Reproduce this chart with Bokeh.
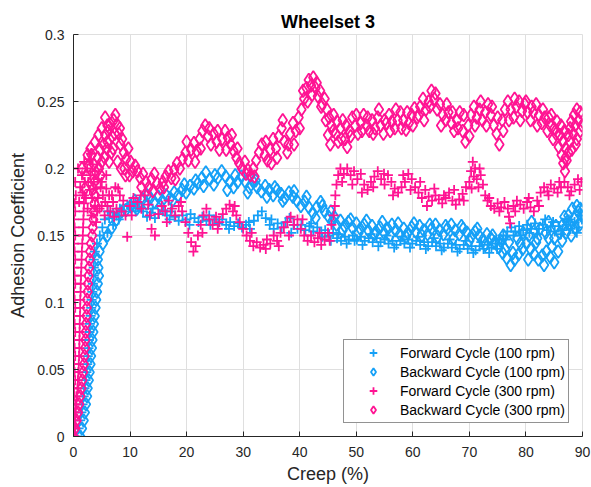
from bokeh.plotting import figure
from bokeh.models import Range1d, FixedTicker, Legend, LegendItem
from bokeh.embed import file_html
from bokeh.resources import INLINE

# ---------------- data (creep %, adhesion coefficient) ----------------
# rising part (steep ramp near zero creep), one adhesion level per entry
RAMP_ADH = [0.000, 0.006, 0.012, 0.018, 0.024, 0.030, 0.036, 0.042, 0.048, 0.054,
            0.060, 0.066, 0.072, 0.078, 0.084, 0.090, 0.096, 0.102, 0.108, 0.114,
            0.120, 0.126, 0.132, 0.138, 0.144, 0.150, 0.156, 0.162, 0.168, 0.174, 0.180]
FWD300_RAMP_A = [0.1, 0.3, 0.2, 0.1, 0.3, 0.2, 0.1, 0.3, 0.2, 0.1,
                 0.3, 0.2, 0.1, 0.3, 0.2, 0.1, 0.3, 0.2, 0.1, 0.3,
                 0.2, 0.1, 0.3, 0.2, 0.1, 0.3, 0.2, 0.1, 0.3, 0.2, 0.4]
FWD300_RAMP_B = [0.0, 0.15, 0.28, 0.4, 0.5, 0.6, 0.7, 0.78, 0.85, 0.93,
                 0.98, 1.03, 1.05, 1.08, 1.1, 1.15, 1.18, 1.2, 1.25, 1.28,
                 1.33, 1.38, 1.43, 1.48, 1.55, 1.65, 1.7, 1.75, 1.8, 1.85, 1.9]
BWD300_RAMP = [0.0, 0.3, 0.55, 0.8, 1.0, 1.2, 1.4, 1.55, 1.7, 1.85,
               1.95, 2.05, 2.1, 2.15, 2.2, 2.3, 2.35, 2.4, 2.5, 2.55,
               2.65, 2.75, 2.85, 2.95, 3.1, 3.3, 3.4, 3.5, 3.6, 3.7, 3.8]
FWD100_RAMP = [0.6, 0.9, 1.18, 1.4, 1.6, 1.8, 1.95, 2.13, 2.28, 2.43,
               2.53, 2.65, 2.73, 2.83, 2.9, 3.03, 3.13, 3.2, 3.33, 3.43,
               3.58, 3.58, 3.58, 3.78, 4.15, 4.65, 5.1, 5.55, 6.05]
BWD100_RAMP = [1.2, 1.5, 1.8, 2.0, 2.2, 2.4, 2.5, 2.7, 2.85, 3.0,
               3.1, 3.25, 3.35, 3.5, 3.6, 3.75, 3.9, 4.0, 4.15, 4.3,
               4.5, 4.4, 4.3, 4.6, 5.2, 6.0, 6.8, 7.6, 8.5]

FWD100_REST = [(6.3, 0.163), (7.0, 0.167), (7.6, 0.165), (8.2, 0.170), (8.9, 0.168), (9.5, 0.173),
               (10.2, 0.170), (10.9, 0.175), (11.6, 0.171), (12.3, 0.168), (13.0, 0.164), (13.7, 0.167),
               (14.4, 0.163), (15.1, 0.166), (15.8, 0.169), (16.5, 0.165), (17.2, 0.168), (17.9, 0.164),
               (18.6, 0.161), (19.3, 0.165), (20.0, 0.162), (20.7, 0.166), (21.4, 0.163), (22.1, 0.160),
               (22.8, 0.164), (23.5, 0.161), (24.2, 0.158), (24.9, 0.162), (25.6, 0.159), (26.3, 0.162),
               (27.0, 0.158), (27.7, 0.160), (28.4, 0.157), (29.1, 0.159), (29.8, 0.156), (30.5, 0.158),
               (31.2, 0.155), (31.9, 0.161), (32.6, 0.165), (33.3, 0.168), (34.0, 0.163), (34.7, 0.158),
               (35.4, 0.155), (36.1, 0.159), (36.8, 0.156), (37.5, 0.160), (38.2, 0.163), (38.9, 0.158),
               (39.6, 0.155), (40.3, 0.158), (41.0, 0.154), (41.7, 0.157), (42.4, 0.153), (43.1, 0.156),
               (43.8, 0.152), (44.5, 0.154), (45.2, 0.150), (45.9, 0.152), (46.6, 0.148), (47.3, 0.146),
               (48.0, 0.149), (48.7, 0.147), (49.4, 0.150), (50.1, 0.147), (50.8, 0.149), (51.5, 0.146),
               (52.2, 0.148), (52.9, 0.145), (53.6, 0.148), (54.3, 0.145), (55.0, 0.147), (55.7, 0.144),
               (56.4, 0.146), (57.1, 0.143), (57.8, 0.146), (58.5, 0.144), (59.2, 0.147), (59.9, 0.144),
               (60.6, 0.146), (61.3, 0.143), (62.0, 0.145), (62.7, 0.142), (63.4, 0.145), (64.1, 0.142),
               (64.8, 0.144), (65.5, 0.141), (66.2, 0.144), (66.9, 0.141), (67.6, 0.143), (68.3, 0.140),
               (69.0, 0.143), (69.7, 0.140), (70.4, 0.142), (71.1, 0.139), (71.8, 0.142), (72.5, 0.140),
               (73.2, 0.143), (73.9, 0.141), (74.6, 0.144), (75.3, 0.147), (76.0, 0.150), (76.7, 0.153),
               (77.4, 0.156), (78.1, 0.153), (78.8, 0.157), (79.5, 0.154), (80.2, 0.158), (80.9, 0.155),
               (81.6, 0.159), (82.3, 0.155), (83.0, 0.158), (83.7, 0.154), (84.4, 0.157), (85.1, 0.153),
               (85.8, 0.157), (86.5, 0.154), (87.2, 0.158), (87.9, 0.155), (88.6, 0.160), (89.3, 0.156),
               (89.9, 0.162),
               (6.0, 0.152), (7.0, 0.158), (8.0, 0.162),
               (11.0, 0.168), (14.0, 0.170), (17.0, 0.162), (20.5, 0.158), (24.0, 0.165), (27.5, 0.155),
               (31.0, 0.160), (35.0, 0.162), (38.5, 0.152), (42.0, 0.159), (44.0, 0.149),
               (45.5, 0.146), (46.9, 0.151), (48.3, 0.144), (49.7, 0.146), (51.1, 0.143), (52.5, 0.151),
               (53.9, 0.142), (55.3, 0.150), (56.7, 0.141), (58.1, 0.149), (59.5, 0.141), (60.9, 0.149),
               (62.3, 0.140), (63.7, 0.148), (65.1, 0.139), (66.5, 0.147), (67.9, 0.138), (69.3, 0.146),
               (70.7, 0.137), (72.1, 0.145), (73.5, 0.137), (74.9, 0.140), (75.7, 0.144), (76.4, 0.147),
               (77.8, 0.150), (79.1, 0.150), (80.6, 0.152), (82.0, 0.151), (83.4, 0.162), (84.8, 0.160),
               (86.2, 0.151), (87.6, 0.162), (89.0, 0.152), (89.6, 0.165)]

BWD100_REST = [(9.3, 0.169), (10.1, 0.172), (10.8, 0.176), (11.5, 0.173), (12.2, 0.177), (12.9, 0.174),
               (13.6, 0.178), (14.3, 0.175), (15.0, 0.179), (15.7, 0.176), (16.4, 0.180), (17.1, 0.178),
               (17.8, 0.182), (18.5, 0.180), (19.2, 0.184), (19.9, 0.182), (20.6, 0.187), (21.3, 0.185),
               (22.0, 0.189), (22.7, 0.193), (23.4, 0.197), (24.1, 0.192), (24.8, 0.188), (25.5, 0.193),
               (26.2, 0.198), (26.9, 0.194), (27.6, 0.190), (28.3, 0.186), (29.0, 0.190), (29.7, 0.194),
               (30.4, 0.190), (31.1, 0.186), (31.8, 0.190), (32.5, 0.186), (33.2, 0.183), (33.9, 0.187),
               (34.6, 0.184), (35.3, 0.180), (36.0, 0.184), (36.7, 0.181), (37.4, 0.178), (38.1, 0.182),
               (38.8, 0.179), (39.5, 0.176), (40.2, 0.172), (40.9, 0.175), (41.6, 0.171), (42.3, 0.167),
               (43.0, 0.171), (43.7, 0.175), (44.4, 0.168), (45.1, 0.164), (45.8, 0.161), (46.5, 0.158),
               (47.2, 0.161), (47.9, 0.157), (48.6, 0.160), (49.3, 0.156), (50.0, 0.159), (50.7, 0.155),
               (51.4, 0.158), (52.1, 0.154), (52.8, 0.157), (53.5, 0.153), (54.2, 0.156), (54.9, 0.152),
               (55.6, 0.155), (56.3, 0.158), (57.0, 0.154), (57.7, 0.151), (58.4, 0.155), (59.1, 0.152),
               (59.8, 0.156), (60.5, 0.153), (61.2, 0.157), (61.9, 0.154), (62.6, 0.151), (63.3, 0.155),
               (64.0, 0.158), (64.7, 0.154), (65.4, 0.151), (66.1, 0.155), (66.8, 0.158), (67.5, 0.154),
               (68.2, 0.151), (68.9, 0.155), (69.6, 0.152), (70.3, 0.149), (71.0, 0.153), (71.7, 0.150),
               (72.4, 0.147), (73.1, 0.151), (73.8, 0.148), (74.5, 0.145), (75.2, 0.141), (75.9, 0.137),
               (76.6, 0.133), (77.3, 0.128), (78.0, 0.132), (78.7, 0.136), (79.4, 0.140), (80.1, 0.144),
               (80.8, 0.140), (81.5, 0.136), (82.2, 0.132), (82.9, 0.135), (83.6, 0.138), (84.3, 0.134),
               (85.0, 0.130), (85.7, 0.138), (86.4, 0.146), (87.1, 0.152), (87.8, 0.158), (88.5, 0.163),
               (89.2, 0.168), (89.8, 0.165), (80.5, 0.150), (82.0, 0.148), (83.5, 0.152), (85.0, 0.148),
               (86.5, 0.158), (88.0, 0.150), (89.5, 0.158), (77.0, 0.145), (78.5, 0.148), (81.0, 0.160),
               (84.0, 0.160), (87.5, 0.165), (89.0, 0.172), (76.0, 0.150), (79.5, 0.152),
               (11.2, 0.170), (13.0, 0.180), (15.4, 0.172), (17.5, 0.176), (19.6, 0.188), (21.6, 0.191),
               (23.0, 0.187), (25.0, 0.195), (27.2, 0.184), (28.6, 0.195), (30.8, 0.182), (32.2, 0.191),
               (34.2, 0.179), (35.6, 0.186), (37.0, 0.176), (39.0, 0.183), (41.2, 0.179), (42.8, 0.163),
               (44.0, 0.172), (45.5, 0.168),
               (46.1, 0.164), (47.6, 0.154), (49.0, 0.162), (50.4, 0.152), (51.8, 0.161), (53.2, 0.151),
               (54.6, 0.160), (56.0, 0.150), (57.4, 0.159), (58.8, 0.149), (60.2, 0.159), (61.6, 0.150),
               (63.0, 0.158), (64.4, 0.149), (65.8, 0.157), (67.2, 0.148), (68.6, 0.157), (70.0, 0.146),
               (71.4, 0.155), (72.8, 0.143), (74.1, 0.150), (75.5, 0.146), (76.3, 0.140), (77.7, 0.137),
               (79.0, 0.144), (80.4, 0.132), (81.8, 0.145), (83.2, 0.128), (84.6, 0.142), (86.0, 0.152),
               (87.3, 0.160), (88.7, 0.156), (89.6, 0.170), (88.2, 0.170), (86.8, 0.164), (85.3, 0.157),
               (84.0, 0.148), (82.5, 0.155)]

FWD300_REST = [(1.2, 0.186), (1.5, 0.195), (2.0, 0.190), (2.4, 0.200), (2.8, 0.207), (3.1, 0.211),
               (3.4, 0.203), (3.0, 0.195), (3.6, 0.190), (4.0, 0.185), (4.4, 0.192), (4.8, 0.186),
               (5.2, 0.180), (5.6, 0.175), (6.0, 0.172), (2.5, 0.170), (3.2, 0.165), (4.0, 0.160),
               (4.6, 0.170), (5.5, 0.165), (6.5, 0.168), (7.0, 0.175), (7.6, 0.170), (8.2, 0.180),
               (8.8, 0.176), (9.5, 0.149), (9.2, 0.165), (10.0, 0.172), (10.6, 0.178), (11.3, 0.175),
               (12.0, 0.170), (12.6, 0.180), (13.2, 0.173), (13.8, 0.155), (14.4, 0.150), (15.0, 0.166),
               (15.6, 0.172), (16.2, 0.168), (16.8, 0.176), (17.4, 0.170), (18.0, 0.165), (18.6, 0.172),
               (19.2, 0.168), (19.8, 0.160), (20.3, 0.152), (20.8, 0.145), (21.2, 0.138), (21.6, 0.142),
               (22.0, 0.150), (22.5, 0.158), (23.0, 0.165), (23.5, 0.170), (24.0, 0.162), (24.6, 0.158),
               (25.2, 0.164), (25.8, 0.160), (26.4, 0.166), (27.0, 0.170), (27.6, 0.173), (28.2, 0.168),
               (28.8, 0.165), (29.4, 0.160), (30.0, 0.155), (30.6, 0.150), (31.2, 0.146), (31.8, 0.142),
               (32.4, 0.145), (33.0, 0.141), (33.6, 0.143), (34.2, 0.147), (34.8, 0.144), (35.4, 0.150),
               (36.0, 0.146), (36.6, 0.152), (37.2, 0.156), (37.8, 0.160), (38.4, 0.164), (39.0, 0.158),
               (39.6, 0.162), (40.2, 0.155), (40.8, 0.150), (41.4, 0.146), (42.0, 0.150), (42.6, 0.145),
               (43.2, 0.148), (43.8, 0.143), (44.4, 0.147), (45.0, 0.152), (45.6, 0.158), (46.0, 0.165),
               (46.2, 0.172), (46.3, 0.180), (46.5, 0.188), (46.8, 0.195), (47.2, 0.200), (47.8, 0.196),
               (48.4, 0.200), (49.0, 0.195), (49.6, 0.198), (50.2, 0.192), (50.8, 0.196), (51.4, 0.188),
               (52.0, 0.184), (52.6, 0.190), (53.2, 0.194), (53.8, 0.198), (54.4, 0.192), (55.0, 0.188),
               (55.6, 0.195), (56.2, 0.190), (56.8, 0.185), (57.4, 0.182), (58.0, 0.186), (58.6, 0.190),
               (59.2, 0.196), (59.8, 0.192), (60.4, 0.186), (61.0, 0.182), (61.6, 0.178), (62.2, 0.184),
               (62.8, 0.179), (63.4, 0.176), (64.0, 0.180), (64.6, 0.177), (65.2, 0.174), (65.8, 0.178),
               (66.4, 0.182), (67.0, 0.176), (67.6, 0.173), (68.2, 0.177), (68.8, 0.181), (69.4, 0.186),
               (70.0, 0.190), (70.3, 0.198), (70.6, 0.205), (71.0, 0.200), (71.3, 0.192), (71.6, 0.186),
               (72.0, 0.195), (72.4, 0.188), (72.8, 0.180), (73.2, 0.176), (73.8, 0.172), (74.4, 0.170),
               (75.0, 0.174), (75.6, 0.171), (76.2, 0.175), (76.8, 0.170), (77.0, 0.164), (77.2, 0.159),
               (77.8, 0.172), (78.4, 0.176), (79.0, 0.173), (79.6, 0.170), (80.2, 0.175), (80.8, 0.171),
               (81.4, 0.168), (82.0, 0.176), (82.6, 0.182), (83.2, 0.186), (83.8, 0.183), (84.4, 0.188),
               (85.0, 0.185), (85.6, 0.182), (86.2, 0.186), (86.8, 0.190), (87.4, 0.186), (88.0, 0.183),
               (88.6, 0.188), (89.2, 0.192), (89.8, 0.190),
               (0.3, 0.190), (0.8, 0.200), (1.0, 0.175), (1.6, 0.182), (2.2, 0.178), (2.6, 0.190),
               (1.9, 0.205), (3.8, 0.198), (4.2, 0.168), (5.0, 0.172), (5.8, 0.195), (6.3, 0.180),
               (7.2, 0.164), (7.9, 0.185), (8.5, 0.168), (2.9, 0.184), (3.3, 0.178), (3.8, 0.172),
               (4.3, 0.178), (5.0, 0.190), (5.8, 0.185), (6.8, 0.180), (7.4, 0.186),
               (10.3, 0.165), (11.9, 0.180), (13.5, 0.165), (16.5, 0.160), (19.0, 0.175), (22.8, 0.152),
               (25.5, 0.155), (28.5, 0.172), (31.5, 0.152), (34.0, 0.140), (36.3, 0.142), (38.1, 0.150),
               (40.5, 0.162), (43.5, 0.152), (45.3, 0.146),
               (47.5, 0.190), (49.3, 0.188), (51.0, 0.182), (53.0, 0.186), (54.9, 0.196), (56.5, 0.180),
               (58.3, 0.195), (59.6, 0.184), (61.3, 0.190), (62.5, 0.172), (63.8, 0.185), (65.5, 0.180),
               (67.3, 0.184), (69.0, 0.176), (70.4, 0.185), (70.8, 0.194), (71.8, 0.200), (73.5, 0.178),
               (75.3, 0.168), (78.1, 0.168), (80.5, 0.178), (82.3, 0.172), (84.0, 0.180), (85.9, 0.190),
               (87.7, 0.180), (89.5, 0.184)]

BWD300_REST = [(3.6, 0.203), (4.0, 0.197), (4.3, 0.208), (4.7, 0.214), (5.0, 0.205), (5.3, 0.218),
               (5.6, 0.225), (5.9, 0.215), (6.2, 0.228), (6.5, 0.233), (6.8, 0.224), (7.1, 0.236),
               (7.4, 0.240), (7.7, 0.233), (8.0, 0.226), (8.3, 0.218), (8.6, 0.222), (8.9, 0.212),
               (9.3, 0.207), (9.7, 0.215), (10.1, 0.205), (10.5, 0.198), (10.9, 0.202), (11.3, 0.198),
               (11.8, 0.193), (12.3, 0.196), (12.8, 0.190), (13.3, 0.186), (13.8, 0.192), (14.3, 0.196),
               (14.8, 0.189), (15.3, 0.185), (15.8, 0.190), (16.3, 0.194), (16.8, 0.198), (17.3, 0.193),
               (17.8, 0.199), (18.3, 0.204), (18.8, 0.200), (19.3, 0.207), (19.8, 0.212), (20.3, 0.206),
               (20.8, 0.214), (21.3, 0.219), (21.8, 0.213), (22.3, 0.222), (22.8, 0.228), (23.3, 0.232),
               (23.8, 0.224), (24.3, 0.218), (24.8, 0.226), (25.3, 0.220), (25.8, 0.214), (26.3, 0.222),
               (26.8, 0.228), (27.3, 0.223), (27.8, 0.218), (28.3, 0.213), (28.8, 0.208), (29.3, 0.204),
               (29.8, 0.200), (30.3, 0.205), (30.8, 0.199), (31.3, 0.195), (31.8, 0.200), (32.3, 0.206),
               (32.8, 0.212), (33.3, 0.218), (33.8, 0.210), (34.3, 0.206), (34.8, 0.214), (35.3, 0.222),
               (35.8, 0.215), (36.3, 0.224), (36.8, 0.230), (37.3, 0.220), (37.8, 0.212), (38.3, 0.226),
               (38.8, 0.234), (39.3, 0.228), (39.8, 0.238), (40.3, 0.244), (40.8, 0.252), (41.2, 0.260),
               (41.6, 0.266), (42.0, 0.262), (42.4, 0.268), (42.8, 0.260), (43.2, 0.254), (43.6, 0.258),
               (44.0, 0.248), (44.4, 0.252), (44.8, 0.244), (45.2, 0.238), (45.6, 0.232), (46.0, 0.240),
               (46.4, 0.226), (46.8, 0.220), (47.2, 0.230), (47.6, 0.236), (48.0, 0.222), (48.4, 0.216),
               (48.8, 0.228), (49.3, 0.238), (49.8, 0.232), (50.3, 0.226), (50.8, 0.234), (51.3, 0.240),
               (51.8, 0.232), (52.3, 0.228), (52.8, 0.236), (53.3, 0.230), (53.8, 0.238), (54.3, 0.232),
               (54.8, 0.226), (55.3, 0.234), (55.8, 0.240), (56.3, 0.235), (56.8, 0.230), (57.3, 0.236),
               (57.8, 0.242), (58.3, 0.236), (58.8, 0.229), (59.3, 0.234), (59.8, 0.240), (60.3, 0.245),
               (60.8, 0.238), (61.3, 0.246), (61.8, 0.252), (62.3, 0.244), (62.8, 0.250), (63.3, 0.258),
               (63.8, 0.252), (64.3, 0.244), (64.8, 0.248), (65.3, 0.240), (65.8, 0.236), (66.3, 0.242),
               (66.8, 0.234), (67.3, 0.228), (67.8, 0.236), (68.3, 0.242), (68.8, 0.228), (69.3, 0.220),
               (69.8, 0.232), (70.3, 0.240), (70.8, 0.246), (71.3, 0.238), (71.8, 0.244), (72.3, 0.236),
               (72.8, 0.242), (73.3, 0.248), (73.8, 0.240), (74.3, 0.232), (74.8, 0.226), (75.3, 0.218),
               (75.8, 0.236), (76.3, 0.244), (76.8, 0.250), (77.3, 0.244), (77.8, 0.238), (78.3, 0.246),
               (78.8, 0.250), (79.3, 0.243), (79.8, 0.248), (80.3, 0.242), (80.8, 0.236), (81.3, 0.242),
               (81.8, 0.248), (82.3, 0.240), (82.8, 0.234), (83.3, 0.238), (83.8, 0.228), (84.3, 0.232),
               (84.8, 0.222), (85.3, 0.226), (85.8, 0.216), (86.3, 0.210), (86.6, 0.204), (86.9, 0.198),
               (87.2, 0.206), (87.5, 0.212), (87.8, 0.220), (88.1, 0.214), (88.4, 0.226), (88.7, 0.232),
               (89.0, 0.222), (89.3, 0.236), (89.6, 0.228), (89.9, 0.232), (84.5, 0.240), (85.5, 0.235),
               (86.0, 0.225), (86.5, 0.220), (87.0, 0.215), (87.5, 0.225), (88.5, 0.240), (89.0, 0.244),
               (88.0, 0.235), (86.8, 0.228),
               (1.5, 0.200), (2.5, 0.210), (3.0, 0.215), (3.8, 0.220), (4.4, 0.225), (5.0, 0.230),
               (5.6, 0.238), (6.0, 0.232), (2.0, 0.185), (3.5, 0.185), (4.8, 0.195), (6.3, 0.205),
               (7.0, 0.215), (7.8, 0.205), (8.4, 0.200), (9.2, 0.195), (2.3, 0.194), (2.7, 0.202),
               (3.2, 0.210), (3.7, 0.190),
               (4.5, 0.200), (5.5, 0.208), (6.0, 0.220), (6.7, 0.212), (7.3, 0.226), (8.2, 0.230),
               (9.0, 0.200), (9.9, 0.195), (12.0, 0.186), (14.0, 0.183), (16.0, 0.186), (18.0, 0.192),
               (20.0, 0.220), (21.5, 0.205), (22.5, 0.215), (24.0, 0.230), (25.5, 0.228), (27.0, 0.214),
               (28.0, 0.225), (29.0, 0.215), (30.5, 0.196), (32.0, 0.194), (34.0, 0.220), (35.0, 0.204),
               (36.0, 0.208), (37.0, 0.236), (38.0, 0.218), (39.0, 0.218), (40.0, 0.230), (40.6, 0.258),
               (41.4, 0.250), (42.2, 0.255), (43.0, 0.264), (43.8, 0.246),
               (44.6, 0.236), (45.0, 0.225), (45.4, 0.218), (45.9, 0.228), (46.6, 0.235), (47.4, 0.222),
               (48.2, 0.232), (49.0, 0.224), (50.0, 0.240), (51.0, 0.228), (52.0, 0.238), (53.0, 0.226),
               (54.0, 0.244), (55.0, 0.236), (56.0, 0.228), (57.0, 0.244), (58.0, 0.230), (59.0, 0.242),
               (60.0, 0.232), (61.0, 0.240), (62.0, 0.236), (63.0, 0.246), (64.0, 0.256), (65.0, 0.232),
               (66.0, 0.248), (67.0, 0.242), (68.0, 0.230), (69.0, 0.240), (70.0, 0.224), (71.0, 0.232),
               (72.0, 0.250), (73.0, 0.232), (74.0, 0.246), (75.0, 0.238), (76.0, 0.228), (77.0, 0.236),
               (78.0, 0.252), (79.0, 0.236), (80.0, 0.250), (81.0, 0.246), (82.0, 0.232), (83.0, 0.244),
               (84.0, 0.238), (85.0, 0.230), (86.2, 0.232), (87.0, 0.208), (87.8, 0.230), (88.8, 0.218),
               (89.6, 0.242)]

X_TICKS = [0, 10, 20, 30, 40, 50, 60, 70, 80, 90]
Y_TICKS = [0, 0.05, 0.1, 0.15, 0.2, 0.25, 0.3]
Y_TICK_LABELS = ["0", "0.05", "0.1", "0.15", "0.2", "0.25", "0.3"]
LABELS = ["Forward Cycle (100 rpm)", "Backward Cycle (100 rpm)",
          "Forward Cycle (300 rpm)", "Backward Cycle (300 rpm)"]

BLUE = "#15a0f7"
PINK = "#ff1493"
FONT = "Liberation Sans"
AXC = "#262626"


def xs(pts):
    return [pt[0] for pt in pts]


def ys(pts):
    return [pt[1] for pt in pts]


fwd100_x = FWD100_RAMP + xs(FWD100_REST)
fwd100_y = RAMP_ADH[:len(FWD100_RAMP)] + ys(FWD100_REST)
bwd100_x = BWD100_RAMP + xs(BWD100_REST)
bwd100_y = RAMP_ADH[:len(BWD100_RAMP)] + ys(BWD100_REST)
fwd300_x = FWD300_RAMP_A + FWD300_RAMP_B + xs(FWD300_REST)
fwd300_y = RAMP_ADH + RAMP_ADH + ys(FWD300_REST)
bwd300_x = BWD300_RAMP + xs(BWD300_REST)
bwd300_y = RAMP_ADH + ys(BWD300_REST)

p = figure(width=591, height=487, output_backend="svg", toolbar_location=None,
           x_range=Range1d(0, 90), y_range=Range1d(0, 0.3),
           min_border_left=73, min_border_right=9, min_border_top=34, min_border_bottom=51,
           title="Wheelset 3")
p.background_fill_color = "white"
p.border_fill_color = "white"
p.outline_line_color = "#dfdfdf"

series = [
    (fwd100_x, fwd100_y, "cross", BLUE, 10),
    (bwd100_x, bwd100_y, "diamond", BLUE, 13),
    (fwd300_x, fwd300_y, "cross", PINK, 10),
    (bwd300_x, bwd300_y, "diamond", PINK, 13),
]
renderers = []
for sx, sy, marker, col, sz in series:
    r = p.scatter(sx, sy, marker=marker, size=sz, line_color=col,
                  fill_color=None, line_width=1.8)
    renderers.append(r)

# title
p.title.text_font = FONT
p.title.text_font_size = "18px"
p.title.text_font_style = "bold"
p.title.text_color = "#000000"
p.title.align = "center"
p.title.standoff = 5

for ax in (p.xaxis[0], p.yaxis[0]):
    ax.axis_line_color = AXC
    ax.axis_line_width = 1
    ax.major_tick_line_color = AXC
    ax.major_tick_in = 5
    ax.major_tick_out = 0
    ax.minor_tick_line_color = None
    ax.major_label_text_font = FONT
    ax.major_label_text_font_size = "14px"
    ax.major_label_text_color = AXC
    ax.axis_label_text_font = FONT
    ax.axis_label_text_font_size = "18px"
    ax.axis_label_text_font_style = "normal"
    ax.axis_label_text_color = AXC

p.xaxis.axis_label = "Creep (%)"
p.yaxis.axis_label = "Adhesion Coefficient"
p.xaxis.ticker = FixedTicker(ticks=X_TICKS)
p.yaxis.ticker = FixedTicker(ticks=Y_TICKS)
p.yaxis.major_label_overrides = {t: s for t, s in zip(Y_TICKS, Y_TICK_LABELS)}
p.xaxis.major_label_standoff = 10
p.xaxis.axis_label_standoff = 4
p.yaxis.major_label_standoff = 9
p.yaxis.axis_label_standoff = 6

p.xgrid.ticker = FixedTicker(ticks=X_TICKS)
p.ygrid.ticker = FixedTicker(ticks=Y_TICKS)
for g in (p.xgrid[0], p.ygrid[0]):
    g.grid_line_color = "#dfdfdf"
    g.grid_line_width = 1

legend = Legend(items=[LegendItem(label=lab, renderers=[r]) for lab, r in zip(LABELS, renderers)],
                location=(270, 13))
legend.label_text_font = FONT
legend.label_text_font_size = "14px"
legend.label_text_color = "#000000"
legend.glyph_width = 52
legend.glyph_height = 19
legend.label_height = 19
legend.spacing = 0
legend.padding = 3
legend.margin = 0
legend.label_standoff = 1
legend.border_line_color = AXC
legend.border_line_width = 1
legend.background_fill_color = "white"
legend.background_fill_alpha = 1.0
p.add_layout(legend)

open("out.html", "w").write(file_html(p, INLINE))
